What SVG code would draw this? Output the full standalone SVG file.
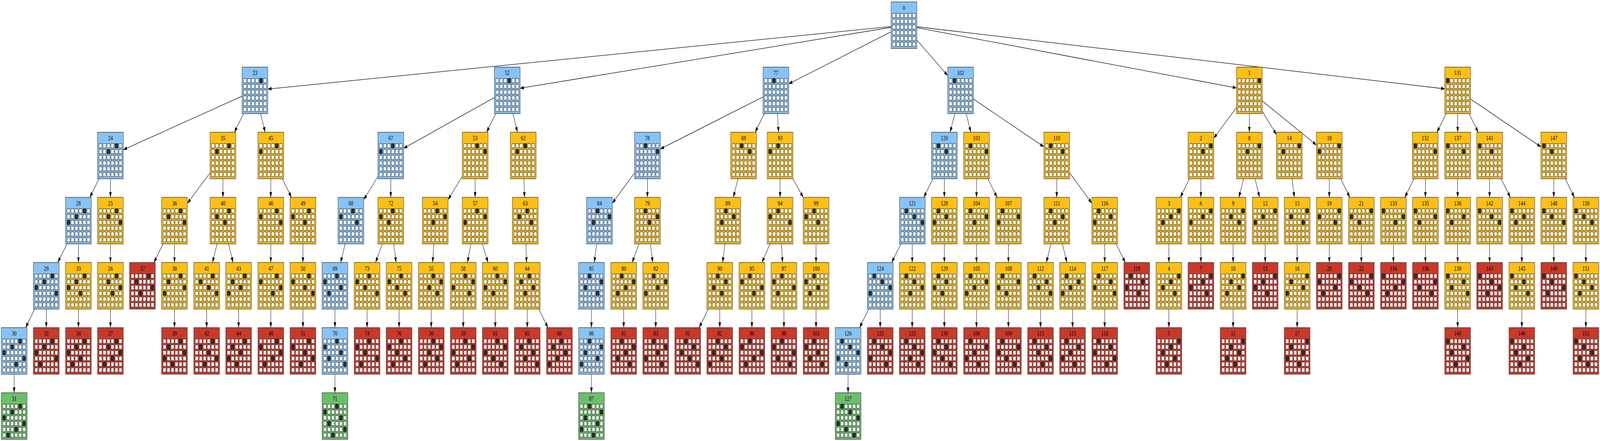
<svg xmlns="http://www.w3.org/2000/svg" xmlns:xlink="http://www.w3.org/1999/xlink" width="5920" height="1129" viewBox="0 0 5920 1129" preserveAspectRatio="none">
<style>
svg{width:100vw;height:100vh}
.e path{fill:none;stroke:#000;stroke-width:1.3;marker-end:url(#a)}
.bx{stroke:#333;stroke-width:1.3}
.B{fill:#88c3f5}.O{fill:#fcbf15}.R{fill:#c8392a}.G{fill:#6bbf6b}
.lb{fill:#eef6fd}.lo{fill:#fef7df}.lr{fill:#fbe5e3}.lg{fill:#e6f4e6}
text{font-family:"Liberation Serif","Times New Roman",serif;font-size:17.5px;text-anchor:middle;fill:#000}
</style>
<defs>
<marker id="a" markerUnits="userSpaceOnUse" markerWidth="14" markerHeight="10" refX="13.5" refY="4.8" orient="auto"><path d="M0,0L13.5,4.8L0,9.6z" fill="#000"/></marker>
<g id="r" stroke="#333" stroke-width="1.2"><rect x="5.3" width="11" height="11"/><rect x="20.1" width="11" height="11"/><rect x="34.9" width="11" height="11"/><rect x="49.7" width="11" height="11"/><rect x="64.5" width="11" height="11"/><rect x="79.3" width="11" height="11"/></g>
<g id="g"><use href="#r" y="29.2"/><use href="#r" y="43.96"/><use href="#r" y="58.72"/><use href="#r" y="73.48"/><use href="#r" y="88.24"/><use href="#r" y="103"/></g>
<rect id="k" width="11" height="11" fill="#2d2d2d" stroke="#1e1e1e" stroke-width="1.2"/>
<use id="q00" href="#k" x="5.3" y="29.2"/><use id="q01" href="#k" x="20.1" y="29.2"/><use id="q02" href="#k" x="34.9" y="29.2"/><use id="q03" href="#k" x="49.7" y="29.2"/><use id="q04" href="#k" x="64.5" y="29.2"/><use id="q05" href="#k" x="79.3" y="29.2"/>
<use id="q10" href="#k" x="5.3" y="43.96"/><use id="q11" href="#k" x="20.1" y="43.96"/><use id="q12" href="#k" x="34.9" y="43.96"/><use id="q13" href="#k" x="49.7" y="43.96"/><use id="q14" href="#k" x="64.5" y="43.96"/><use id="q15" href="#k" x="79.3" y="43.96"/>
<use id="q20" href="#k" x="5.3" y="58.72"/><use id="q21" href="#k" x="20.1" y="58.72"/><use id="q22" href="#k" x="34.9" y="58.72"/><use id="q23" href="#k" x="49.7" y="58.72"/><use id="q24" href="#k" x="64.5" y="58.72"/><use id="q25" href="#k" x="79.3" y="58.72"/>
<use id="q30" href="#k" x="5.3" y="73.48"/><use id="q31" href="#k" x="20.1" y="73.48"/><use id="q32" href="#k" x="34.9" y="73.48"/><use id="q33" href="#k" x="49.7" y="73.48"/><use id="q34" href="#k" x="64.5" y="73.48"/><use id="q35" href="#k" x="79.3" y="73.48"/>
<use id="q40" href="#k" x="5.3" y="88.24"/><use id="q41" href="#k" x="20.1" y="88.24"/><use id="q42" href="#k" x="34.9" y="88.24"/><use id="q43" href="#k" x="49.7" y="88.24"/><use id="q44" href="#k" x="64.5" y="88.24"/><use id="q45" href="#k" x="79.3" y="88.24"/>
<use id="q50" href="#k" x="5.3" y="103"/><use id="q51" href="#k" x="20.1" y="103"/><use id="q52" href="#k" x="34.9" y="103"/><use id="q53" href="#k" x="49.7" y="103"/><use id="q54" href="#k" x="64.5" y="103"/><use id="q55" href="#k" x="79.3" y="103"/>
</defs>
<rect width="5920" height="1129" fill="#fff"/>
<g id="edges" class="e">
<path d="M3297,67.9L990.9,228.05"/><path d="M3297,70L1924.4,225.94"/><path d="M3297,81.35L2918.3,214.6"/><path d="M3392.2,102.5L3506.5,193.46"/><path d="M3392.2,70.8L4575,225.14"/><path d="M3392.2,68.5L5345.7,227.48"/>
<path d="M895.7,246.2L456.3,383.26"/><path d="M901,290.95L867.2,338.5"/><path d="M964.2,290.95L981,338.5"/><path d="M1829.2,249.77L1493.6,379.68"/><path d="M1834.3,290.95L1800.4,338.5"/><path d="M1897.9,290.95L1914.7,338.5"/><path d="M2823.1,248.05L2443.2,381.4"/><path d="M2828,290.95L2794,338.5"/><path d="M2876.3,290.95L2880.7,338.5"/><path d="M3532.7,290.95L3515.5,338.5"/><path d="M3575.2,290.95L3592,338.5"/><path d="M3601.8,253.66L3862.3,375.79"/><path d="M4575,275.59L4490.9,353.86"/><path d="M4622.6,290.95L4622.6,338.5"/><path d="M4670.3,285.05L4722.8,344.4"/><path d="M4670.3,258.19L4870.7,371.26"/><path d="M5350.7,290.95L5316.6,338.5"/><path d="M5393.3,290.95L5393.3,338.5"/><path d="M5435.5,290.95L5469.3,338.5"/><path d="M5441,253.66L5701.4,375.79"/>
<path d="M366.3,457.7L332.5,505.25"/><path d="M408.6,457.7V505.25"/><path d="M777.3,442.37L693.3,520.58"/><path d="M824.9,457.7V505.25"/><path d="M1001.9,457.7V505.25"/><path d="M1044.4,457.7L1078.3,505.25"/><path d="M1398.3,451.84L1345.9,511.11"/><path d="M1445.9,457.7V505.25"/><path d="M1710.3,451.84L1657.9,511.11"/><path d="M1757.9,457.7V505.25"/><path d="M1938.5,457.7L1940.7,505.25"/><path d="M2347.9,442.82L2265.7,520.13"/><path d="M2395.5,457.7V505.25"/><path d="M2730.4,457.7L2713.7,505.25"/><path d="M2886.3,457.7V505.25"/><path d="M2933.9,457.7L2971.8,505.25"/><path d="M3451.8,457.7L3418,505.25"/><path d="M3494.1,457.7V505.25"/><path d="M3613.1,457.7V505.25"/><path d="M3655.3,457.7L3689,505.25"/><path d="M3909.9,457.7V505.25"/><path d="M3957.6,442.82L4039.8,520.13"/><path d="M4400.9,457.7L4367.1,505.25"/><path d="M4443.2,457.7V505.25"/><path d="M4601.1,457.7L4584,505.25"/><path d="M4643.5,457.7L4660.3,505.25"/><path d="M4780.8,457.7L4789.1,505.25"/><path d="M4918.3,457.7V505.25"/><path d="M4960.7,457.7L4994.6,505.25"/><path d="M5231.7,457.7L5197.9,505.25"/><path d="M5274,457.7V505.25"/><path d="M5393.3,457.7V505.25"/><path d="M5511.5,457.7V505.25"/><path d="M5554.1,457.7L5588.2,505.25"/><path d="M5749,457.7V505.25"/><path d="M5791.5,457.7L5825.3,505.25"/>
<path d="M247.7,624.45L213.7,672"/><path d="M290.2,624.45V672"/><path d="M408.6,624.45V672"/><path d="M603.2,624.45L569.5,672"/><path d="M645.6,624.45V672"/><path d="M803.3,624.45L786.2,672"/><path d="M845.6,624.45L862.2,672"/><path d="M1001.9,624.45V672"/><path d="M1120.8,624.45V672"/><path d="M1277.1,624.45L1260.3,672"/><path d="M1414.6,624.45L1389.5,672"/><path d="M1456.9,624.45L1465.6,672"/><path d="M1605,624.45L1600.8,672"/><path d="M1742.2,624.45L1729.7,672"/><path d="M1784.6,624.45L1805.8,672"/><path d="M1946.1,624.45L1948.2,672"/><path d="M2207.4,624.45L2198.9,672"/><path d="M2364.1,624.45L2339.1,672"/><path d="M2406.5,624.45L2415.2,672"/><path d="M2682.2,624.45L2673.7,672"/><path d="M2849,624.45L2819.3,672"/><path d="M2891.4,624.45L2895.4,672"/><path d="M3019.4,624.45V672"/><path d="M3333.2,624.45L3299.3,672"/><path d="M3375.2,624.45V672"/><path d="M3494.1,624.45V672"/><path d="M3613.1,624.45V672"/><path d="M3731.2,624.45V672"/><path d="M3888.5,624.45L3871.4,672"/><path d="M3930.8,624.45L3947.6,672"/><path d="M4087.4,624.45V672"/><path d="M4129.7,624.45L4163.5,672"/><path d="M4324.8,624.45V672"/><path d="M4443.2,624.45V672"/><path d="M4562.5,624.45V672"/><path d="M4681.2,624.45V672"/><path d="M4799.5,624.45V672"/><path d="M4918.3,624.45V672"/><path d="M5037,624.45V672"/><path d="M5155.6,624.45V672"/><path d="M5274,624.45V672"/><path d="M5393.3,624.45V672"/><path d="M5511.5,624.45V672"/><path d="M5630.8,624.45V672"/><path d="M5749,624.45V672"/><path d="M5867.8,624.45V672"/>
<path d="M128.7,791.2L94.8,838.75"/><path d="M171.2,791.2V838.75"/><path d="M290.2,791.2V838.75"/><path d="M408.6,791.2V838.75"/><path d="M645.6,791.2V838.75"/><path d="M764.6,791.2V838.75"/><path d="M882.9,791.2V838.75"/><path d="M1001.9,791.2V838.75"/><path d="M1120.8,791.2V838.75"/><path d="M1239.2,791.2V838.75"/><path d="M1358.2,791.2V838.75"/><path d="M1476.6,791.2V838.75"/><path d="M1595.6,791.2V838.75"/><path d="M1714,791.2V838.75"/><path d="M1832.5,791.2V838.75"/><path d="M1950.9,791.2V838.75"/><path d="M1993.4,791.2L2027.3,838.75"/><path d="M2188.3,791.2V838.75"/><path d="M2307.7,791.2V838.75"/><path d="M2426.2,791.2V838.75"/><path d="M2620.7,791.2L2587,838.75"/><path d="M2663.1,791.2V838.75"/><path d="M2782,791.2V838.75"/><path d="M2900.5,791.2V838.75"/><path d="M3019.4,791.2V838.75"/><path d="M3214.3,791.2L3180.4,838.75"/><path d="M3256.8,791.2V838.75"/><path d="M3375.2,791.2V838.75"/><path d="M3494.1,791.2V838.75"/><path d="M3613.1,791.2V838.75"/><path d="M3731.2,791.2V838.75"/><path d="M3850,791.2V838.75"/><path d="M3968.5,791.2V838.75"/><path d="M4087.4,791.2V838.75"/><path d="M4324.8,791.2V838.75"/><path d="M4562.5,791.2V838.75"/><path d="M4799.5,791.2V838.75"/><path d="M5393.3,791.2V838.75"/><path d="M5630.8,791.2V838.75"/><path d="M5867.8,791.2V838.75"/>
<path d="M52.3,957.95V1005.5"/><path d="M1239.2,957.95V1005.5"/><path d="M2188.3,957.95V1005.5"/><path d="M3137.9,957.95V1005.5"/>
</g>
<g id="nodes">
<g id="n0" transform="translate(3297,5)"><rect class="bx B" width="95.3" height="119.2"/><text x="47.65" y="20.7">0</text><use href="#g" class="lb"/></g>
<g id="n23" transform="translate(895.7,171.75)"><rect class="bx B" width="95.3" height="119.2"/><text x="47.65" y="20.7">23</text><use href="#g" class="lb"/><use href="#q04"/></g>
<g id="n52" transform="translate(1829.2,171.75)"><rect class="bx B" width="95.3" height="119.2"/><text x="47.65" y="20.7">52</text><use href="#g" class="lb"/><use href="#q03"/></g>
<g id="n77" transform="translate(2823.1,171.75)"><rect class="bx B" width="95.3" height="119.2"/><text x="47.65" y="20.7">77</text><use href="#g" class="lb"/><use href="#q02"/></g>
<g id="n102" transform="translate(3506.5,171.75)"><rect class="bx B" width="95.3" height="119.2"/><text x="47.65" y="20.7">102</text><use href="#g" class="lb"/><use href="#q01"/></g>
<g id="n1" transform="translate(4575,171.75)"><rect class="bx O" width="95.3" height="119.2"/><text x="47.65" y="20.7">1</text><use href="#g" class="lo"/><use href="#q05"/></g>
<g id="n131" transform="translate(5345.7,171.75)"><rect class="bx O" width="95.3" height="119.2"/><text x="47.65" y="20.7">131</text><use href="#g" class="lo"/><use href="#q00"/></g>
<g id="n24" transform="translate(361,338.5)"><rect class="bx B" width="95.3" height="119.2"/><text x="47.65" y="20.7">24</text><use href="#g" class="lb"/><use href="#q04"/><use href="#q12"/></g>
<g id="n35" transform="translate(777.3,338.5)"><rect class="bx O" width="95.3" height="119.2"/><text x="47.65" y="20.7">35</text><use href="#g" class="lo"/><use href="#q04"/><use href="#q11"/></g>
<g id="n45" transform="translate(954.3,338.5)"><rect class="bx O" width="95.3" height="119.2"/><text x="47.65" y="20.7">45</text><use href="#g" class="lo"/><use href="#q04"/><use href="#q10"/></g>
<g id="n67" transform="translate(1398.3,338.5)"><rect class="bx B" width="95.3" height="119.2"/><text x="47.65" y="20.7">67</text><use href="#g" class="lb"/><use href="#q03"/><use href="#q10"/></g>
<g id="n53" transform="translate(1710.3,338.5)"><rect class="bx O" width="95.3" height="119.2"/><text x="47.65" y="20.7">53</text><use href="#g" class="lo"/><use href="#q03"/><use href="#q15"/></g>
<g id="n62" transform="translate(1888.2,338.5)"><rect class="bx O" width="95.3" height="119.2"/><text x="47.65" y="20.7">62</text><use href="#g" class="lo"/><use href="#q03"/><use href="#q11"/></g>
<g id="n78" transform="translate(2347.9,338.5)"><rect class="bx B" width="95.3" height="119.2"/><text x="47.65" y="20.7">78</text><use href="#g" class="lb"/><use href="#q02"/><use href="#q15"/></g>
<g id="n88" transform="translate(2703.7,338.5)"><rect class="bx O" width="95.3" height="119.2"/><text x="47.65" y="20.7">88</text><use href="#g" class="lo"/><use href="#q02"/><use href="#q14"/></g>
<g id="n93" transform="translate(2838.7,338.5)"><rect class="bx O" width="95.3" height="119.2"/><text x="47.65" y="20.7">93</text><use href="#g" class="lo"/><use href="#q02"/><use href="#q10"/></g>
<g id="n120" transform="translate(3446.5,338.5)"><rect class="bx B" width="95.3" height="119.2"/><text x="47.65" y="20.7">120</text><use href="#g" class="lb"/><use href="#q01"/><use href="#q13"/></g>
<g id="n103" transform="translate(3565.5,338.5)"><rect class="bx O" width="95.3" height="119.2"/><text x="47.65" y="20.7">103</text><use href="#g" class="lo"/><use href="#q01"/><use href="#q15"/></g>
<g id="n110" transform="translate(3862.3,338.5)"><rect class="bx O" width="95.3" height="119.2"/><text x="47.65" y="20.7">110</text><use href="#g" class="lo"/><use href="#q01"/><use href="#q14"/></g>
<g id="n2" transform="translate(4395.6,338.5)"><rect class="bx O" width="95.3" height="119.2"/><text x="47.65" y="20.7">2</text><use href="#g" class="lo"/><use href="#q05"/><use href="#q13"/></g>
<g id="n8" transform="translate(4575,338.5)"><rect class="bx O" width="95.3" height="119.2"/><text x="47.65" y="20.7">8</text><use href="#g" class="lo"/><use href="#q05"/><use href="#q12"/></g>
<g id="n14" transform="translate(4722.8,338.5)"><rect class="bx O" width="95.3" height="119.2"/><text x="47.65" y="20.7">14</text><use href="#g" class="lo"/><use href="#q05"/><use href="#q11"/></g>
<g id="n18" transform="translate(4870.7,338.5)"><rect class="bx O" width="95.3" height="119.2"/><text x="47.65" y="20.7">18</text><use href="#g" class="lo"/><use href="#q05"/><use href="#q10"/></g>
<g id="n132" transform="translate(5225.8,338.5)"><rect class="bx O" width="95.3" height="119.2"/><text x="47.65" y="20.7">132</text><use href="#g" class="lo"/><use href="#q00"/><use href="#q15"/></g>
<g id="n137" transform="translate(5345.7,338.5)"><rect class="bx O" width="95.3" height="119.2"/><text x="47.65" y="20.7">137</text><use href="#g" class="lo"/><use href="#q00"/><use href="#q14"/></g>
<g id="n141" transform="translate(5463.9,338.5)"><rect class="bx O" width="95.3" height="119.2"/><text x="47.65" y="20.7">141</text><use href="#g" class="lo"/><use href="#q00"/><use href="#q13"/></g>
<g id="n147" transform="translate(5701.4,338.5)"><rect class="bx O" width="95.3" height="119.2"/><text x="47.65" y="20.7">147</text><use href="#g" class="lo"/><use href="#q00"/><use href="#q12"/></g>
<g id="n28" transform="translate(242.6,505.25)"><rect class="bx B" width="95.3" height="119.2"/><text x="47.65" y="20.7">28</text><use href="#g" class="lb"/><use href="#q04"/><use href="#q12"/><use href="#q20"/></g>
<g id="n25" transform="translate(361,505.25)"><rect class="bx O" width="95.3" height="119.2"/><text x="47.65" y="20.7">25</text><use href="#g" class="lo"/><use href="#q04"/><use href="#q12"/><use href="#q25"/></g>
<g id="n36" transform="translate(598,505.25)"><rect class="bx O" width="95.3" height="119.2"/><text x="47.65" y="20.7">36</text><use href="#g" class="lo"/><use href="#q04"/><use href="#q11"/><use href="#q25"/></g>
<g id="n40" transform="translate(777.3,505.25)"><rect class="bx O" width="95.3" height="119.2"/><text x="47.65" y="20.7">40</text><use href="#g" class="lo"/><use href="#q04"/><use href="#q11"/><use href="#q23"/></g>
<g id="n46" transform="translate(954.3,505.25)"><rect class="bx O" width="95.3" height="119.2"/><text x="47.65" y="20.7">46</text><use href="#g" class="lo"/><use href="#q04"/><use href="#q10"/><use href="#q25"/></g>
<g id="n49" transform="translate(1073.2,505.25)"><rect class="bx O" width="95.3" height="119.2"/><text x="47.65" y="20.7">49</text><use href="#g" class="lo"/><use href="#q04"/><use href="#q10"/><use href="#q23"/></g>
<g id="n68" transform="translate(1250.6,505.25)"><rect class="bx B" width="95.3" height="119.2"/><text x="47.65" y="20.7">68</text><use href="#g" class="lb"/><use href="#q03"/><use href="#q10"/><use href="#q24"/></g>
<g id="n72" transform="translate(1398.3,505.25)"><rect class="bx O" width="95.3" height="119.2"/><text x="47.65" y="20.7">72</text><use href="#g" class="lo"/><use href="#q03"/><use href="#q10"/><use href="#q22"/></g>
<g id="n54" transform="translate(1562.6,505.25)"><rect class="bx O" width="95.3" height="119.2"/><text x="47.65" y="20.7">54</text><use href="#g" class="lo"/><use href="#q03"/><use href="#q15"/><use href="#q22"/></g>
<g id="n57" transform="translate(1710.3,505.25)"><rect class="bx O" width="95.3" height="119.2"/><text x="47.65" y="20.7">57</text><use href="#g" class="lo"/><use href="#q03"/><use href="#q15"/><use href="#q20"/></g>
<g id="n63" transform="translate(1895.8,505.25)"><rect class="bx O" width="95.3" height="119.2"/><text x="47.65" y="20.7">63</text><use href="#g" class="lo"/><use href="#q03"/><use href="#q11"/><use href="#q24"/></g>
<g id="n84" transform="translate(2170.4,505.25)"><rect class="bx B" width="95.3" height="119.2"/><text x="47.65" y="20.7">84</text><use href="#g" class="lb"/><use href="#q02"/><use href="#q15"/><use href="#q21"/></g>
<g id="n79" transform="translate(2347.9,505.25)"><rect class="bx O" width="95.3" height="119.2"/><text x="47.65" y="20.7">79</text><use href="#g" class="lo"/><use href="#q02"/><use href="#q15"/><use href="#q23"/></g>
<g id="n89" transform="translate(2645.2,505.25)"><rect class="bx O" width="95.3" height="119.2"/><text x="47.65" y="20.7">89</text><use href="#g" class="lo"/><use href="#q02"/><use href="#q14"/><use href="#q21"/></g>
<g id="n94" transform="translate(2838.7,505.25)"><rect class="bx O" width="95.3" height="119.2"/><text x="47.65" y="20.7">94</text><use href="#g" class="lo"/><use href="#q02"/><use href="#q10"/><use href="#q25"/></g>
<g id="n99" transform="translate(2971.8,505.25)"><rect class="bx O" width="95.3" height="119.2"/><text x="47.65" y="20.7">99</text><use href="#g" class="lo"/><use href="#q02"/><use href="#q10"/><use href="#q23"/></g>
<g id="n121" transform="translate(3328.1,505.25)"><rect class="bx B" width="95.3" height="119.2"/><text x="47.65" y="20.7">121</text><use href="#g" class="lb"/><use href="#q01"/><use href="#q13"/><use href="#q25"/></g>
<g id="n128" transform="translate(3446.5,505.25)"><rect class="bx O" width="95.3" height="119.2"/><text x="47.65" y="20.7">128</text><use href="#g" class="lo"/><use href="#q01"/><use href="#q13"/><use href="#q20"/></g>
<g id="n104" transform="translate(3565.5,505.25)"><rect class="bx O" width="95.3" height="119.2"/><text x="47.65" y="20.7">104</text><use href="#g" class="lo"/><use href="#q01"/><use href="#q15"/><use href="#q22"/></g>
<g id="n107" transform="translate(3683.6,505.25)"><rect class="bx O" width="95.3" height="119.2"/><text x="47.65" y="20.7">107</text><use href="#g" class="lo"/><use href="#q01"/><use href="#q15"/><use href="#q20"/></g>
<g id="n111" transform="translate(3862.3,505.25)"><rect class="bx O" width="95.3" height="119.2"/><text x="47.65" y="20.7">111</text><use href="#g" class="lo"/><use href="#q01"/><use href="#q14"/><use href="#q22"/></g>
<g id="n116" transform="translate(4039.8,505.25)"><rect class="bx O" width="95.3" height="119.2"/><text x="47.65" y="20.7">116</text><use href="#g" class="lo"/><use href="#q01"/><use href="#q14"/><use href="#q20"/></g>
<g id="n3" transform="translate(4277.2,505.25)"><rect class="bx O" width="95.3" height="119.2"/><text x="47.65" y="20.7">3</text><use href="#g" class="lo"/><use href="#q05"/><use href="#q13"/><use href="#q21"/></g>
<g id="n6" transform="translate(4395.6,505.25)"><rect class="bx O" width="95.3" height="119.2"/><text x="47.65" y="20.7">6</text><use href="#g" class="lo"/><use href="#q05"/><use href="#q13"/><use href="#q20"/></g>
<g id="n9" transform="translate(4514.9,505.25)"><rect class="bx O" width="95.3" height="119.2"/><text x="47.65" y="20.7">9</text><use href="#g" class="lo"/><use href="#q05"/><use href="#q12"/><use href="#q24"/></g>
<g id="n12" transform="translate(4633.6,505.25)"><rect class="bx O" width="95.3" height="119.2"/><text x="47.65" y="20.7">12</text><use href="#g" class="lo"/><use href="#q05"/><use href="#q12"/><use href="#q20"/></g>
<g id="n15" transform="translate(4751.9,505.25)"><rect class="bx O" width="95.3" height="119.2"/><text x="47.65" y="20.7">15</text><use href="#g" class="lo"/><use href="#q05"/><use href="#q11"/><use href="#q24"/></g>
<g id="n19" transform="translate(4870.7,505.25)"><rect class="bx O" width="95.3" height="119.2"/><text x="47.65" y="20.7">19</text><use href="#g" class="lo"/><use href="#q05"/><use href="#q10"/><use href="#q24"/></g>
<g id="n21" transform="translate(4989.4,505.25)"><rect class="bx O" width="95.3" height="119.2"/><text x="47.65" y="20.7">21</text><use href="#g" class="lo"/><use href="#q05"/><use href="#q10"/><use href="#q22"/></g>
<g id="n133" transform="translate(5108,505.25)"><rect class="bx O" width="95.3" height="119.2"/><text x="47.65" y="20.7">133</text><use href="#g" class="lo"/><use href="#q00"/><use href="#q15"/><use href="#q23"/></g>
<g id="n135" transform="translate(5226.4,505.25)"><rect class="bx O" width="95.3" height="119.2"/><text x="47.65" y="20.7">135</text><use href="#g" class="lo"/><use href="#q00"/><use href="#q15"/><use href="#q21"/></g>
<g id="n138" transform="translate(5345.7,505.25)"><rect class="bx O" width="95.3" height="119.2"/><text x="47.65" y="20.7">138</text><use href="#g" class="lo"/><use href="#q00"/><use href="#q14"/><use href="#q21"/></g>
<g id="n142" transform="translate(5463.9,505.25)"><rect class="bx O" width="95.3" height="119.2"/><text x="47.65" y="20.7">142</text><use href="#g" class="lo"/><use href="#q00"/><use href="#q13"/><use href="#q25"/></g>
<g id="n144" transform="translate(5583.2,505.25)"><rect class="bx O" width="95.3" height="119.2"/><text x="47.65" y="20.7">144</text><use href="#g" class="lo"/><use href="#q00"/><use href="#q13"/><use href="#q21"/></g>
<g id="n148" transform="translate(5701.4,505.25)"><rect class="bx O" width="95.3" height="119.2"/><text x="47.65" y="20.7">148</text><use href="#g" class="lo"/><use href="#q00"/><use href="#q12"/><use href="#q25"/></g>
<g id="n150" transform="translate(5820.2,505.25)"><rect class="bx O" width="95.3" height="119.2"/><text x="47.65" y="20.7">150</text><use href="#g" class="lo"/><use href="#q00"/><use href="#q12"/><use href="#q24"/></g>
<g id="n29" transform="translate(123.6,672)"><rect class="bx B" width="95.3" height="119.2"/><text x="47.65" y="20.7">29</text><use href="#g" class="lb"/><use href="#q04"/><use href="#q12"/><use href="#q20"/><use href="#q35"/></g>
<g id="n33" transform="translate(242.6,672)"><rect class="bx O" width="95.3" height="119.2"/><text x="47.65" y="20.7">33</text><use href="#g" class="lo"/><use href="#q04"/><use href="#q12"/><use href="#q20"/><use href="#q33"/></g>
<g id="n26" transform="translate(361,672)"><rect class="bx O" width="95.3" height="119.2"/><text x="47.65" y="20.7">26</text><use href="#g" class="lo"/><use href="#q04"/><use href="#q12"/><use href="#q25"/><use href="#q33"/></g>
<g id="n37" transform="translate(479.5,672)"><rect class="bx R" width="95.3" height="119.2"/><text x="47.65" y="20.7">37</text><use href="#g" class="lr"/><use href="#q04"/><use href="#q11"/><use href="#q25"/><use href="#q32"/></g>
<g id="n38" transform="translate(598,672)"><rect class="bx O" width="95.3" height="119.2"/><text x="47.65" y="20.7">38</text><use href="#g" class="lo"/><use href="#q04"/><use href="#q11"/><use href="#q25"/><use href="#q30"/></g>
<g id="n41" transform="translate(717,672)"><rect class="bx O" width="95.3" height="119.2"/><text x="47.65" y="20.7">41</text><use href="#g" class="lo"/><use href="#q04"/><use href="#q11"/><use href="#q23"/><use href="#q35"/></g>
<g id="n43" transform="translate(835.3,672)"><rect class="bx O" width="95.3" height="119.2"/><text x="47.65" y="20.7">43</text><use href="#g" class="lo"/><use href="#q04"/><use href="#q11"/><use href="#q23"/><use href="#q30"/></g>
<g id="n47" transform="translate(954.3,672)"><rect class="bx O" width="95.3" height="119.2"/><text x="47.65" y="20.7">47</text><use href="#g" class="lo"/><use href="#q04"/><use href="#q10"/><use href="#q25"/><use href="#q33"/></g>
<g id="n50" transform="translate(1073.2,672)"><rect class="bx O" width="95.3" height="119.2"/><text x="47.65" y="20.7">50</text><use href="#g" class="lo"/><use href="#q04"/><use href="#q10"/><use href="#q23"/><use href="#q35"/></g>
<g id="n69" transform="translate(1191.6,672)"><rect class="bx B" width="95.3" height="119.2"/><text x="47.65" y="20.7">69</text><use href="#g" class="lb"/><use href="#q03"/><use href="#q10"/><use href="#q24"/><use href="#q31"/></g>
<g id="n73" transform="translate(1310.6,672)"><rect class="bx O" width="95.3" height="119.2"/><text x="47.65" y="20.7">73</text><use href="#g" class="lo"/><use href="#q03"/><use href="#q10"/><use href="#q22"/><use href="#q35"/></g>
<g id="n75" transform="translate(1429,672)"><rect class="bx O" width="95.3" height="119.2"/><text x="47.65" y="20.7">75</text><use href="#g" class="lo"/><use href="#q03"/><use href="#q10"/><use href="#q22"/><use href="#q34"/></g>
<g id="n55" transform="translate(1548,672)"><rect class="bx O" width="95.3" height="119.2"/><text x="47.65" y="20.7">55</text><use href="#g" class="lo"/><use href="#q03"/><use href="#q15"/><use href="#q22"/><use href="#q34"/></g>
<g id="n58" transform="translate(1666.4,672)"><rect class="bx O" width="95.3" height="119.2"/><text x="47.65" y="20.7">58</text><use href="#g" class="lo"/><use href="#q03"/><use href="#q15"/><use href="#q20"/><use href="#q34"/></g>
<g id="n60" transform="translate(1784.9,672)"><rect class="bx O" width="95.3" height="119.2"/><text x="47.65" y="20.7">60</text><use href="#g" class="lo"/><use href="#q03"/><use href="#q15"/><use href="#q20"/><use href="#q32"/></g>
<g id="n64" transform="translate(1903.3,672)"><rect class="bx O" width="95.3" height="119.2"/><text x="47.65" y="20.7">64</text><use href="#g" class="lo"/><use href="#q03"/><use href="#q11"/><use href="#q24"/><use href="#q32"/></g>
<g id="n85" transform="translate(2140.7,672)"><rect class="bx B" width="95.3" height="119.2"/><text x="47.65" y="20.7">85</text><use href="#g" class="lb"/><use href="#q02"/><use href="#q15"/><use href="#q21"/><use href="#q34"/></g>
<g id="n80" transform="translate(2260.1,672)"><rect class="bx O" width="95.3" height="119.2"/><text x="47.65" y="20.7">80</text><use href="#g" class="lo"/><use href="#q02"/><use href="#q15"/><use href="#q23"/><use href="#q31"/></g>
<g id="n82" transform="translate(2378.6,672)"><rect class="bx O" width="95.3" height="119.2"/><text x="47.65" y="20.7">82</text><use href="#g" class="lo"/><use href="#q02"/><use href="#q15"/><use href="#q23"/><use href="#q30"/></g>
<g id="n90" transform="translate(2615.5,672)"><rect class="bx O" width="95.3" height="119.2"/><text x="47.65" y="20.7">90</text><use href="#g" class="lo"/><use href="#q02"/><use href="#q14"/><use href="#q21"/><use href="#q33"/></g>
<g id="n95" transform="translate(2734.4,672)"><rect class="bx O" width="95.3" height="119.2"/><text x="47.65" y="20.7">95</text><use href="#g" class="lo"/><use href="#q02"/><use href="#q10"/><use href="#q25"/><use href="#q33"/></g>
<g id="n97" transform="translate(2852.9,672)"><rect class="bx O" width="95.3" height="119.2"/><text x="47.65" y="20.7">97</text><use href="#g" class="lo"/><use href="#q02"/><use href="#q10"/><use href="#q25"/><use href="#q31"/></g>
<g id="n100" transform="translate(2971.8,672)"><rect class="bx O" width="95.3" height="119.2"/><text x="47.65" y="20.7">100</text><use href="#g" class="lo"/><use href="#q02"/><use href="#q10"/><use href="#q23"/><use href="#q31"/></g>
<g id="n124" transform="translate(3209.2,672)"><rect class="bx B" width="95.3" height="119.2"/><text x="47.65" y="20.7">124</text><use href="#g" class="lb"/><use href="#q01"/><use href="#q13"/><use href="#q25"/><use href="#q30"/></g>
<g id="n122" transform="translate(3327.6,672)"><rect class="bx O" width="95.3" height="119.2"/><text x="47.65" y="20.7">122</text><use href="#g" class="lo"/><use href="#q01"/><use href="#q13"/><use href="#q25"/><use href="#q32"/></g>
<g id="n129" transform="translate(3446.5,672)"><rect class="bx O" width="95.3" height="119.2"/><text x="47.65" y="20.7">129</text><use href="#g" class="lo"/><use href="#q01"/><use href="#q13"/><use href="#q20"/><use href="#q32"/></g>
<g id="n105" transform="translate(3565.5,672)"><rect class="bx O" width="95.3" height="119.2"/><text x="47.65" y="20.7">105</text><use href="#g" class="lo"/><use href="#q01"/><use href="#q15"/><use href="#q22"/><use href="#q30"/></g>
<g id="n108" transform="translate(3683.6,672)"><rect class="bx O" width="95.3" height="119.2"/><text x="47.65" y="20.7">108</text><use href="#g" class="lo"/><use href="#q01"/><use href="#q15"/><use href="#q20"/><use href="#q32"/></g>
<g id="n112" transform="translate(3802.4,672)"><rect class="bx O" width="95.3" height="119.2"/><text x="47.65" y="20.7">112</text><use href="#g" class="lo"/><use href="#q01"/><use href="#q14"/><use href="#q22"/><use href="#q35"/></g>
<g id="n114" transform="translate(3920.9,672)"><rect class="bx O" width="95.3" height="119.2"/><text x="47.65" y="20.7">114</text><use href="#g" class="lo"/><use href="#q01"/><use href="#q14"/><use href="#q22"/><use href="#q30"/></g>
<g id="n117" transform="translate(4039.8,672)"><rect class="bx O" width="95.3" height="119.2"/><text x="47.65" y="20.7">117</text><use href="#g" class="lo"/><use href="#q01"/><use href="#q14"/><use href="#q20"/><use href="#q35"/></g>
<g id="n119" transform="translate(4158.2,672)"><rect class="bx R" width="95.3" height="119.2"/><text x="47.65" y="20.7">119</text><use href="#g" class="lr"/><use href="#q01"/><use href="#q14"/><use href="#q20"/><use href="#q33"/></g>
<g id="n4" transform="translate(4277.2,672)"><rect class="bx O" width="95.3" height="119.2"/><text x="47.65" y="20.7">4</text><use href="#g" class="lo"/><use href="#q05"/><use href="#q13"/><use href="#q21"/><use href="#q34"/></g>
<g id="n7" transform="translate(4395.6,672)"><rect class="bx R" width="95.3" height="119.2"/><text x="47.65" y="20.7">7</text><use href="#g" class="lr"/><use href="#q05"/><use href="#q13"/><use href="#q20"/><use href="#q34"/></g>
<g id="n10" transform="translate(4514.9,672)"><rect class="bx O" width="95.3" height="119.2"/><text x="47.65" y="20.7">10</text><use href="#g" class="lo"/><use href="#q05"/><use href="#q12"/><use href="#q24"/><use href="#q31"/></g>
<g id="n13" transform="translate(4633.6,672)"><rect class="bx R" width="95.3" height="119.2"/><text x="47.65" y="20.7">13</text><use href="#g" class="lr"/><use href="#q05"/><use href="#q12"/><use href="#q20"/><use href="#q33"/></g>
<g id="n16" transform="translate(4751.9,672)"><rect class="bx O" width="95.3" height="119.2"/><text x="47.65" y="20.7">16</text><use href="#g" class="lo"/><use href="#q05"/><use href="#q11"/><use href="#q24"/><use href="#q30"/></g>
<g id="n20" transform="translate(4870.7,672)"><rect class="bx R" width="95.3" height="119.2"/><text x="47.65" y="20.7">20</text><use href="#g" class="lr"/><use href="#q05"/><use href="#q10"/><use href="#q24"/><use href="#q31"/></g>
<g id="n22" transform="translate(4989.4,672)"><rect class="bx R" width="95.3" height="119.2"/><text x="47.65" y="20.7">22</text><use href="#g" class="lr"/><use href="#q05"/><use href="#q10"/><use href="#q22"/><use href="#q34"/></g>
<g id="n134" transform="translate(5108,672)"><rect class="bx R" width="95.3" height="119.2"/><text x="47.65" y="20.7">134</text><use href="#g" class="lr"/><use href="#q00"/><use href="#q15"/><use href="#q23"/><use href="#q31"/></g>
<g id="n136" transform="translate(5226.4,672)"><rect class="bx R" width="95.3" height="119.2"/><text x="47.65" y="20.7">136</text><use href="#g" class="lr"/><use href="#q00"/><use href="#q15"/><use href="#q21"/><use href="#q34"/></g>
<g id="n139" transform="translate(5345.7,672)"><rect class="bx O" width="95.3" height="119.2"/><text x="47.65" y="20.7">139</text><use href="#g" class="lo"/><use href="#q00"/><use href="#q14"/><use href="#q21"/><use href="#q35"/></g>
<g id="n143" transform="translate(5463.9,672)"><rect class="bx R" width="95.3" height="119.2"/><text x="47.65" y="20.7">143</text><use href="#g" class="lr"/><use href="#q00"/><use href="#q13"/><use href="#q25"/><use href="#q32"/></g>
<g id="n145" transform="translate(5583.2,672)"><rect class="bx O" width="95.3" height="119.2"/><text x="47.65" y="20.7">145</text><use href="#g" class="lo"/><use href="#q00"/><use href="#q13"/><use href="#q21"/><use href="#q34"/></g>
<g id="n149" transform="translate(5701.4,672)"><rect class="bx R" width="95.3" height="119.2"/><text x="47.65" y="20.7">149</text><use href="#g" class="lr"/><use href="#q00"/><use href="#q12"/><use href="#q25"/><use href="#q31"/></g>
<g id="n151" transform="translate(5820.2,672)"><rect class="bx O" width="95.3" height="119.2"/><text x="47.65" y="20.7">151</text><use href="#g" class="lo"/><use href="#q00"/><use href="#q12"/><use href="#q24"/><use href="#q31"/></g>
<g id="n30" transform="translate(4.7,838.75)"><rect class="bx B" width="95.3" height="119.2"/><text x="47.65" y="20.7">30</text><use href="#g" class="lb"/><use href="#q04"/><use href="#q12"/><use href="#q20"/><use href="#q35"/><use href="#q43"/></g>
<g id="n32" transform="translate(123.6,838.75)"><rect class="bx R" width="95.3" height="119.2"/><text x="47.65" y="20.7">32</text><use href="#g" class="lr"/><use href="#q04"/><use href="#q12"/><use href="#q20"/><use href="#q35"/><use href="#q41"/></g>
<g id="n34" transform="translate(242.6,838.75)"><rect class="bx R" width="95.3" height="119.2"/><text x="47.65" y="20.7">34</text><use href="#g" class="lr"/><use href="#q04"/><use href="#q12"/><use href="#q20"/><use href="#q33"/><use href="#q41"/></g>
<g id="n27" transform="translate(361,838.75)"><rect class="bx R" width="95.3" height="119.2"/><text x="47.65" y="20.7">27</text><use href="#g" class="lr"/><use href="#q04"/><use href="#q12"/><use href="#q25"/><use href="#q33"/><use href="#q41"/></g>
<g id="n39" transform="translate(598,838.75)"><rect class="bx R" width="95.3" height="119.2"/><text x="47.65" y="20.7">39</text><use href="#g" class="lr"/><use href="#q04"/><use href="#q11"/><use href="#q25"/><use href="#q30"/><use href="#q42"/></g>
<g id="n42" transform="translate(717,838.75)"><rect class="bx R" width="95.3" height="119.2"/><text x="47.65" y="20.7">42</text><use href="#g" class="lr"/><use href="#q04"/><use href="#q11"/><use href="#q23"/><use href="#q35"/><use href="#q42"/></g>
<g id="n44" transform="translate(835.3,838.75)"><rect class="bx R" width="95.3" height="119.2"/><text x="47.65" y="20.7">44</text><use href="#g" class="lr"/><use href="#q04"/><use href="#q11"/><use href="#q23"/><use href="#q30"/><use href="#q42"/></g>
<g id="n48" transform="translate(954.3,838.75)"><rect class="bx R" width="95.3" height="119.2"/><text x="47.65" y="20.7">48</text><use href="#g" class="lr"/><use href="#q04"/><use href="#q10"/><use href="#q25"/><use href="#q33"/><use href="#q41"/></g>
<g id="n51" transform="translate(1073.2,838.75)"><rect class="bx R" width="95.3" height="119.2"/><text x="47.65" y="20.7">51</text><use href="#g" class="lr"/><use href="#q04"/><use href="#q10"/><use href="#q23"/><use href="#q35"/><use href="#q42"/></g>
<g id="n70" transform="translate(1191.6,838.75)"><rect class="bx B" width="95.3" height="119.2"/><text x="47.65" y="20.7">70</text><use href="#g" class="lb"/><use href="#q03"/><use href="#q10"/><use href="#q24"/><use href="#q31"/><use href="#q45"/></g>
<g id="n74" transform="translate(1310.6,838.75)"><rect class="bx R" width="95.3" height="119.2"/><text x="47.65" y="20.7">74</text><use href="#g" class="lr"/><use href="#q03"/><use href="#q10"/><use href="#q22"/><use href="#q35"/><use href="#q41"/></g>
<g id="n76" transform="translate(1429,838.75)"><rect class="bx R" width="95.3" height="119.2"/><text x="47.65" y="20.7">76</text><use href="#g" class="lr"/><use href="#q03"/><use href="#q10"/><use href="#q22"/><use href="#q34"/><use href="#q41"/></g>
<g id="n56" transform="translate(1548,838.75)"><rect class="bx R" width="95.3" height="119.2"/><text x="47.65" y="20.7">56</text><use href="#g" class="lr"/><use href="#q03"/><use href="#q15"/><use href="#q22"/><use href="#q34"/><use href="#q41"/></g>
<g id="n59" transform="translate(1666.4,838.75)"><rect class="bx R" width="95.3" height="119.2"/><text x="47.65" y="20.7">59</text><use href="#g" class="lr"/><use href="#q03"/><use href="#q15"/><use href="#q20"/><use href="#q34"/><use href="#q41"/></g>
<g id="n61" transform="translate(1784.9,838.75)"><rect class="bx R" width="95.3" height="119.2"/><text x="47.65" y="20.7">61</text><use href="#g" class="lr"/><use href="#q03"/><use href="#q15"/><use href="#q20"/><use href="#q32"/><use href="#q44"/></g>
<g id="n65" transform="translate(1903.3,838.75)"><rect class="bx R" width="95.3" height="119.2"/><text x="47.65" y="20.7">65</text><use href="#g" class="lr"/><use href="#q03"/><use href="#q11"/><use href="#q24"/><use href="#q32"/><use href="#q45"/></g>
<g id="n66" transform="translate(2022.2,838.75)"><rect class="bx R" width="95.3" height="119.2"/><text x="47.65" y="20.7">66</text><use href="#g" class="lr"/><use href="#q03"/><use href="#q11"/><use href="#q24"/><use href="#q32"/><use href="#q40"/></g>
<g id="n86" transform="translate(2140.7,838.75)"><rect class="bx B" width="95.3" height="119.2"/><text x="47.65" y="20.7">86</text><use href="#g" class="lb"/><use href="#q02"/><use href="#q15"/><use href="#q21"/><use href="#q34"/><use href="#q40"/></g>
<g id="n81" transform="translate(2260.1,838.75)"><rect class="bx R" width="95.3" height="119.2"/><text x="47.65" y="20.7">81</text><use href="#g" class="lr"/><use href="#q02"/><use href="#q15"/><use href="#q23"/><use href="#q31"/><use href="#q44"/></g>
<g id="n83" transform="translate(2378.6,838.75)"><rect class="bx R" width="95.3" height="119.2"/><text x="47.65" y="20.7">83</text><use href="#g" class="lr"/><use href="#q02"/><use href="#q15"/><use href="#q23"/><use href="#q30"/><use href="#q44"/></g>
<g id="n91" transform="translate(2497,838.75)"><rect class="bx R" width="95.3" height="119.2"/><text x="47.65" y="20.7">91</text><use href="#g" class="lr"/><use href="#q02"/><use href="#q14"/><use href="#q21"/><use href="#q33"/><use href="#q45"/></g>
<g id="n92" transform="translate(2615.5,838.75)"><rect class="bx R" width="95.3" height="119.2"/><text x="47.65" y="20.7">92</text><use href="#g" class="lr"/><use href="#q02"/><use href="#q14"/><use href="#q21"/><use href="#q33"/><use href="#q40"/></g>
<g id="n96" transform="translate(2734.4,838.75)"><rect class="bx R" width="95.3" height="119.2"/><text x="47.65" y="20.7">96</text><use href="#g" class="lr"/><use href="#q02"/><use href="#q10"/><use href="#q25"/><use href="#q33"/><use href="#q41"/></g>
<g id="n98" transform="translate(2852.9,838.75)"><rect class="bx R" width="95.3" height="119.2"/><text x="47.65" y="20.7">98</text><use href="#g" class="lr"/><use href="#q02"/><use href="#q10"/><use href="#q25"/><use href="#q31"/><use href="#q44"/></g>
<g id="n101" transform="translate(2971.8,838.75)"><rect class="bx R" width="95.3" height="119.2"/><text x="47.65" y="20.7">101</text><use href="#g" class="lr"/><use href="#q02"/><use href="#q10"/><use href="#q23"/><use href="#q31"/><use href="#q44"/></g>
<g id="n126" transform="translate(3090.3,838.75)"><rect class="bx B" width="95.3" height="119.2"/><text x="47.65" y="20.7">126</text><use href="#g" class="lb"/><use href="#q01"/><use href="#q13"/><use href="#q25"/><use href="#q30"/><use href="#q42"/></g>
<g id="n125" transform="translate(3209.2,838.75)"><rect class="bx R" width="95.3" height="119.2"/><text x="47.65" y="20.7">125</text><use href="#g" class="lr"/><use href="#q01"/><use href="#q13"/><use href="#q25"/><use href="#q30"/><use href="#q44"/></g>
<g id="n123" transform="translate(3327.6,838.75)"><rect class="bx R" width="95.3" height="119.2"/><text x="47.65" y="20.7">123</text><use href="#g" class="lr"/><use href="#q01"/><use href="#q13"/><use href="#q25"/><use href="#q32"/><use href="#q44"/></g>
<g id="n130" transform="translate(3446.5,838.75)"><rect class="bx R" width="95.3" height="119.2"/><text x="47.65" y="20.7">130</text><use href="#g" class="lr"/><use href="#q01"/><use href="#q13"/><use href="#q20"/><use href="#q32"/><use href="#q44"/></g>
<g id="n106" transform="translate(3565.5,838.75)"><rect class="bx R" width="95.3" height="119.2"/><text x="47.65" y="20.7">106</text><use href="#g" class="lr"/><use href="#q01"/><use href="#q15"/><use href="#q22"/><use href="#q30"/><use href="#q43"/></g>
<g id="n109" transform="translate(3683.6,838.75)"><rect class="bx R" width="95.3" height="119.2"/><text x="47.65" y="20.7">109</text><use href="#g" class="lr"/><use href="#q01"/><use href="#q15"/><use href="#q20"/><use href="#q32"/><use href="#q44"/></g>
<g id="n113" transform="translate(3802.4,838.75)"><rect class="bx R" width="95.3" height="119.2"/><text x="47.65" y="20.7">113</text><use href="#g" class="lr"/><use href="#q01"/><use href="#q14"/><use href="#q22"/><use href="#q35"/><use href="#q43"/></g>
<g id="n115" transform="translate(3920.9,838.75)"><rect class="bx R" width="95.3" height="119.2"/><text x="47.65" y="20.7">115</text><use href="#g" class="lr"/><use href="#q01"/><use href="#q14"/><use href="#q22"/><use href="#q30"/><use href="#q43"/></g>
<g id="n118" transform="translate(4039.8,838.75)"><rect class="bx R" width="95.3" height="119.2"/><text x="47.65" y="20.7">118</text><use href="#g" class="lr"/><use href="#q01"/><use href="#q14"/><use href="#q20"/><use href="#q35"/><use href="#q43"/></g>
<g id="n5" transform="translate(4277.2,838.75)"><rect class="bx R" width="95.3" height="119.2"/><text x="47.65" y="20.7">5</text><use href="#g" class="lr"/><use href="#q05"/><use href="#q13"/><use href="#q21"/><use href="#q34"/><use href="#q42"/></g>
<g id="n11" transform="translate(4514.9,838.75)"><rect class="bx R" width="95.3" height="119.2"/><text x="47.65" y="20.7">11</text><use href="#g" class="lr"/><use href="#q05"/><use href="#q12"/><use href="#q24"/><use href="#q31"/><use href="#q43"/></g>
<g id="n17" transform="translate(4751.9,838.75)"><rect class="bx R" width="95.3" height="119.2"/><text x="47.65" y="20.7">17</text><use href="#g" class="lr"/><use href="#q05"/><use href="#q11"/><use href="#q24"/><use href="#q30"/><use href="#q43"/></g>
<g id="n140" transform="translate(5345.7,838.75)"><rect class="bx R" width="95.3" height="119.2"/><text x="47.65" y="20.7">140</text><use href="#g" class="lr"/><use href="#q00"/><use href="#q14"/><use href="#q21"/><use href="#q35"/><use href="#q42"/></g>
<g id="n146" transform="translate(5583.2,838.75)"><rect class="bx R" width="95.3" height="119.2"/><text x="47.65" y="20.7">146</text><use href="#g" class="lr"/><use href="#q00"/><use href="#q13"/><use href="#q21"/><use href="#q34"/><use href="#q42"/></g>
<g id="n152" transform="translate(5820.2,838.75)"><rect class="bx R" width="95.3" height="119.2"/><text x="47.65" y="20.7">152</text><use href="#g" class="lr"/><use href="#q00"/><use href="#q12"/><use href="#q24"/><use href="#q31"/><use href="#q43"/></g>
<g id="n31" transform="translate(4.7,1005.5)"><rect class="bx G" width="95.3" height="119.2"/><text x="47.65" y="20.7">31</text><use href="#g" class="lg"/><use href="#q04"/><use href="#q12"/><use href="#q20"/><use href="#q35"/><use href="#q43"/><use href="#q51"/></g>
<g id="n71" transform="translate(1191.6,1005.5)"><rect class="bx G" width="95.3" height="119.2"/><text x="47.65" y="20.7">71</text><use href="#g" class="lg"/><use href="#q03"/><use href="#q10"/><use href="#q24"/><use href="#q31"/><use href="#q45"/><use href="#q52"/></g>
<g id="n87" transform="translate(2140.7,1005.5)"><rect class="bx G" width="95.3" height="119.2"/><text x="47.65" y="20.7">87</text><use href="#g" class="lg"/><use href="#q02"/><use href="#q15"/><use href="#q21"/><use href="#q34"/><use href="#q40"/><use href="#q53"/></g>
<g id="n127" transform="translate(3090.3,1005.5)"><rect class="bx G" width="95.3" height="119.2"/><text x="47.65" y="20.7">127</text><use href="#g" class="lg"/><use href="#q01"/><use href="#q13"/><use href="#q25"/><use href="#q30"/><use href="#q42"/><use href="#q54"/></g>
</g>
</svg>
